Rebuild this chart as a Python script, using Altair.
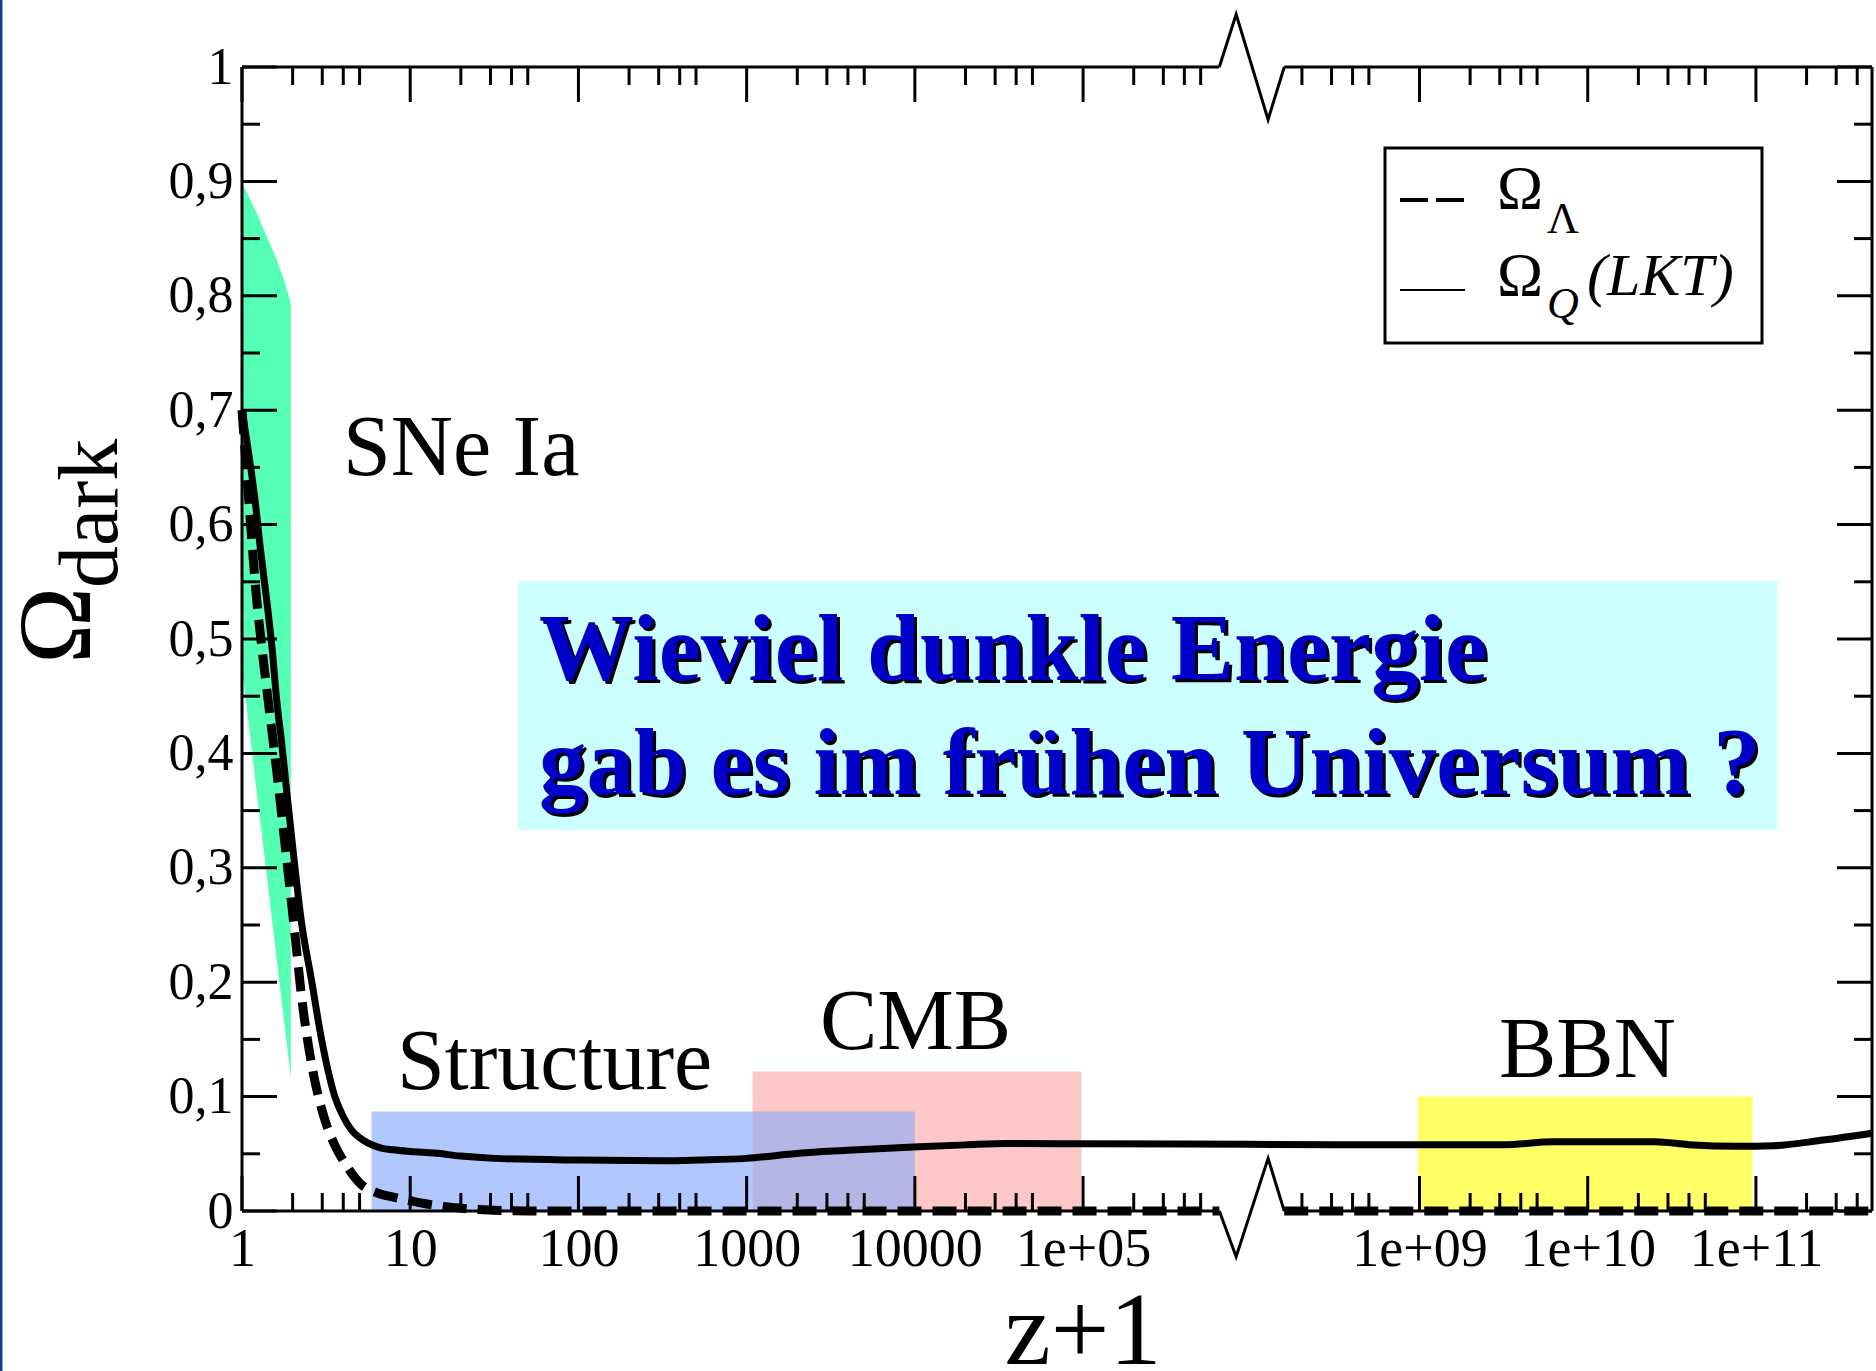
import altair as alt
import pandas as pd
import numpy as np

# ---------------- data (x is the compressed log10(z+1) coordinate: 1e9 -> 7) ----------------
SOLID_U = [0, 0.04, 0.077, 0.11, 0.146, 0.18, 0.206, 0.235, 0.26, 0.30, 0.354, 0.413, 0.473, 0.552,
           0.60, 0.65, 0.70, 0.747, 0.828, 0.90, 1.0, 1.145, 1.3, 1.5, 2.0, 2.5, 2.716, 3.0, 3.31,
           3.6, 3.99, 4.3, 4.55, 5.0, 5.6, 6.5, 7.0, 7.5, 7.8, 8.4, 8.6, 8.9, 9.1, 9.4, 9.69]
SOLID_Y = [0.70, 0.662, 0.622, 0.578, 0.535, 0.49, 0.447, 0.41, 0.375, 0.32, 0.252, 0.202, 0.150, 0.100,
           0.083, 0.071, 0.064, 0.0595, 0.055, 0.0535, 0.052, 0.0507, 0.048, 0.046, 0.0445, 0.044, 0.0446,
           0.046, 0.0505, 0.053, 0.056, 0.0578, 0.059, 0.0588, 0.0585, 0.058, 0.058, 0.058, 0.0605, 0.0605,
           0.058, 0.0565, 0.057, 0.062, 0.068]

DASH_U_A = [0, 0.04, 0.087, 0.12, 0.155, 0.215, 0.25, 0.285, 0.314, 0.354, 0.413, 0.492, 0.55, 0.611,
            0.71, 0.80, 0.888, 1.0, 1.145, 1.3, 1.44, 1.7, 5.81]
DASH_Y_A = [0.70, 0.622, 0.535, 0.49, 0.447, 0.374, 0.328, 0.282, 0.243, 0.1875, 0.129, 0.080, 0.058, 0.042,
            0.023, 0.016, 0.0125, 0.009, 0.005, 0.0025, 0.001, 0.0, 0.0]
DASH_U_B = [6.196, 9.69]
DASH_Y_B = [0.0, 0.0]

SNE_U = [0, 0.05, 0.10, 0.15, 0.20, 0.25, 0.29]
SNE_TOP = [0.899, 0.884, 0.868, 0.851, 0.834, 0.814, 0.793]
SNE_BOT = [0.474, 0.413, 0.351, 0.290, 0.228, 0.166, 0.117]

BAND_NAMES = ["Structure", "CMB", "Structure+CMB", "BBN"]
BAND_U0 = [0.77, 3.035, 3.035, 6.99]
BAND_U1 = [4.0, 4.99, 4.0, 8.98]
BAND_TOP = [0.087, 0.122, 0.087, 0.100]
BAND_COLORS = ["#B0C8FF", "#FFC8C8", "#B6B6E6", "#FFFF66"]

XTICK_U = [0, 1, 2, 3, 4, 5, 7, 8, 9]
XTICK_LABELS = ["1", "10", "100", "1000", "10000", "1e+05", "1e+09", "1e+10", "1e+11"]
YTICKS = [round(0.1 * i, 1) for i in range(11)]
YTICK_LABELS = ["0", "0,1", "0,2", "0,3", "0,4", "0,5", "0,6", "0,7", "0,8", "0,9", "1"]
DECADES = [0, 1, 2, 3, 4, 5, 6, 7, 8, 9]
MINOR_K = [2, 3, 4, 5]

XMAX = 9.69
BREAK_U = [5.81, 5.91, 6.10, 6.196]
W, H = 1630, 1144
SERIF = "Liberation Serif"

# ---------------- helpers ----------------
xscale = alt.Scale(domain=[0, XMAX], nice=False, zero=False)
yscale = alt.Scale(domain=[0, 1], nice=False, zero=False)

xexpr = " : ".join(f"datum.value == {v} ? '{l}'" for v, l in zip(XTICK_U, XTICK_LABELS)) + " : ''"
yexpr = " : ".join(f"abs(datum.value - {v}) < 1e-6 ? '{l}'" for v, l in zip(YTICKS, YTICK_LABELS)) + " : ''"

xaxis = alt.Axis(values=XTICK_U, labelExpr=xexpr, ticks=False, tickSize=0, domain=False, grid=False,
                 labelFont=SERIF, labelFontSize=54, labelColor="black", labelBaseline="alphabetic",
                 labelPadding=54, labelFlush=False, labelOverlap=False, title=None)
yaxis = alt.Axis(values=YTICKS, labelExpr=yexpr, ticks=False, tickSize=0, domain=False, grid=False,
                 labelFont=SERIF, labelFontSize=52, labelColor="black", labelPadding=9,
                 labelOverlap=False, title=None)


def X(f):
    return alt.X(f, type="quantitative", scale=xscale, axis=xaxis)


def Y(f):
    return alt.Y(f, type="quantitative", scale=yscale, axis=yaxis)


# ---------------- layers ----------------
sne = pd.DataFrame({"u": SNE_U, "top": SNE_TOP, "bot": SNE_BOT})
sne_layer = alt.Chart(sne).mark_area(color="#55FFB4", opacity=1).encode(
    x=X("u"), y=Y("top"), y2="bot")

bands = pd.DataFrame({"name": BAND_NAMES, "u0": BAND_U0, "u1": BAND_U1, "top": BAND_TOP,
                      "bot": [0.0] * len(BAND_NAMES)})
band_layer = alt.Chart(bands).mark_rect(opacity=1).encode(
    x=X("u0"), x2="u1", y=Y("top"), y2="bot",
    color=alt.Color("name:N", scale=alt.Scale(domain=BAND_NAMES, range=BAND_COLORS), legend=None))

box_layer = alt.Chart(pd.DataFrame({"a": [0]})).mark_rect(color="#CCFFFF").encode(
    x=alt.value(276), x2=alt.value(1535), y=alt.value(514), y2=alt.value(763))

# ticks
minor_u = [d + np.log10(k) for d in DECADES for k in MINOR_K]
minor_u = [u for u in minor_u if u <= XMAX + 1e-6 and not (5.75 < u < 6.25)]
xmaj = pd.DataFrame({"u": XTICK_U})
xmin = pd.DataFrame({"u": minor_u})
ymaj = pd.DataFrame({"y": YTICKS})
ymin = pd.DataFrame({"y": [round(v + 0.05, 2) for v in YTICKS[:-1]]})

tick_layers = []
for df, ln in [(xmaj, 35), (xmin, 18)]:
    tick_layers.append(alt.Chart(df).mark_rule(color="black", strokeWidth=3).encode(
        x=X("u"), y=alt.value(H), y2=alt.value(H - ln)))
    tick_layers.append(alt.Chart(df).mark_rule(color="black", strokeWidth=3).encode(
        x=X("u"), y=alt.value(0), y2=alt.value(ln)))
for df, ln in [(ymaj, 35), (ymin, 18)]:
    tick_layers.append(alt.Chart(df).mark_rule(color="black", strokeWidth=3).encode(
        y=Y("y"), x=alt.value(0), x2=alt.value(ln)))
    tick_layers.append(alt.Chart(df).mark_rule(color="black", strokeWidth=3).encode(
        y=Y("y"), x=alt.value(W), x2=alt.value(W - ln)))

# frame with axis break
frame_h = pd.DataFrame({"u0": [0, BREAK_U[-1], 0, BREAK_U[-1]],
                        "u1": [BREAK_U[0], XMAX, BREAK_U[0], XMAX],
                        "y": [0, 0, 1, 1]})
frame_h_layer = alt.Chart(frame_h).mark_rule(color="black", strokeWidth=3).encode(
    x=X("u0"), x2="u1", y=Y("y"))
frame_v_layer = alt.Chart(pd.DataFrame({"px": [0, W]})).mark_rule(color="black", strokeWidth=3).encode(
    x=alt.X("px:Q", scale=None), y=alt.value(0), y2=alt.value(H))
zig = pd.DataFrame({
    "u": BREAK_U + BREAK_U,
    "y": [0, -0.040, 0.046, 0, 1, 1.046, 0.954, 1],
    "side": ["b"] * 4 + ["t"] * 4,
})
zig_layer = alt.Chart(zig).mark_line(color="black", strokeWidth=3, strokeJoin="miter").encode(
    x=X("u"), y=Y("y"), detail="side:N")

# curves
solid = pd.DataFrame({"u": SOLID_U, "y": SOLID_Y})
solid_layer = alt.Chart(solid).mark_line(color="black", strokeWidth=7, interpolate="monotone").encode(
    x=X("u"), y=Y("y"))
dash = pd.DataFrame({"u": DASH_U_A + DASH_U_B, "y": DASH_Y_A + DASH_Y_B,
                     "seg": ["a"] * len(DASH_U_A) + ["b"] * len(DASH_U_B)})
dash_layer = alt.Chart(dash).mark_line(color="black", strokeWidth=9, strokeDash=[24, 11],
                                       strokeCap="butt", interpolate="monotone").encode(
    x=X("u"), y=Y("y"), detail="seg:N")


def label(text, px, py, size, color="black", weight="normal", style="normal", angle=0, align="left",
          baseline="alphabetic"):
    return alt.Chart(pd.DataFrame({"t": [text]})).mark_text(
        font=SERIF, fontSize=size, color=color, fontWeight=weight, fontStyle=style, angle=angle,
        align=align, baseline=baseline).encode(x=alt.value(px), y=alt.value(py), text="t:N")


texts = [
    label("SNe Ia", 101, 408, 86),
    label("Structure", 155, 1022, 86),
    label("CMB", 578, 982, 86),
    label("BBN", 1257, 1010, 86),
    label("Wieviel dunkle Energie", 300, 616, 95, color="black", weight="bold"),
    label("gab es im frühen Universum ?", 300, 730, 95, color="black", weight="bold"),
    label("Wieviel dunkle Energie", 297, 613, 95, color="#0000C8", weight="bold"),
    label("gab es im frühen Universum ?", 297, 727, 95, color="#0000C8", weight="bold"),
    label("Ω", -152, 597, 104, angle=270),
    label("dark", -125, 521, 84, angle=270),
    label("z+1", 841, 1297, 104, align="center"),
]

# legend
leg_box = alt.Chart(pd.DataFrame({"a": [0]})).mark_rect(fill="white", stroke="black", strokeWidth=3).encode(
    x=alt.value(1143), x2=alt.value(1520), y=alt.value(81), y2=alt.value(276))
leg_dash = alt.Chart(pd.DataFrame({"a": [0]})).mark_rule(color="black", strokeWidth=4, strokeDash=[28, 8]).encode(
    x=alt.value(1158), x2=alt.value(1222), y=alt.value(133))
leg_solid = alt.Chart(pd.DataFrame({"a": [0]})).mark_rule(color="black", strokeWidth=2).encode(
    x=alt.value(1158), x2=alt.value(1223), y=alt.value(223))
leg_texts = [
    label("Ω", 1255, 141, 62),
    label("Λ", 1305, 166, 44),
    label("Ω", 1255, 228, 62),
    label("Q", 1305, 251, 44, style="italic"),
    label("(LKT)", 1345, 228, 60, style="italic"),
]

border = alt.Chart(pd.DataFrame({"a": [0]})).mark_rule(color="#1A3A8C", strokeWidth=3).encode(
    x=alt.value(-241), y=alt.value(-67), y2=alt.value(1371 - 67))

chart = alt.layer(
    box_layer, sne_layer, band_layer, *tick_layers, frame_h_layer, frame_v_layer, zig_layer,
    solid_layer, dash_layer, *texts, leg_box, leg_dash, leg_solid, *leg_texts, border,
).properties(
    width=W, height=H,
    autosize=alt.AutoSizeParams(type="none"),
    padding={"left": 242, "top": 67, "right": 4, "bottom": 160},
    background="white",
).configure_view(stroke=None)

chart.save("out.html", embed_options={"renderer": "svg", "actions": False})
